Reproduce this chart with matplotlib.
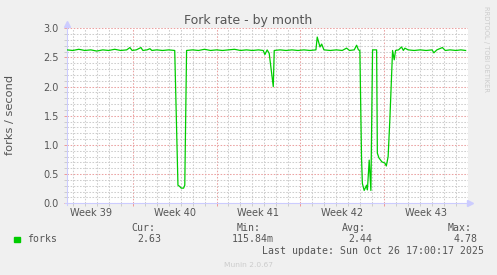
import numpy as np
import matplotlib.pyplot as plt
from matplotlib.patches import Rectangle

# Fork rate per 2h-ish sample, x = days since Mon Sep 22 2025 00:00
days = [1.51, 2.0, 2.5, 3.0, 3.5, 4.0, 4.5, 5.0, 5.5, 6.0, 6.5, 6.77, 6.95, 7.3,
        7.69, 7.85, 8.2, 8.44, 8.6, 9.0, 9.5, 10.0, 10.51,
        10.78, 10.92, 11.05, 11.25, 11.35, 11.5,
        12.0, 12.5, 13.0, 13.5, 14.0, 14.5, 15.0, 15.5, 16.0, 16.5, 17.0, 17.5,
        17.9, 18.04, 18.23, 18.4, 18.74, 18.82,
        19.3, 19.8, 20.3, 20.8, 21.3, 21.8, 22.3,
        22.41, 22.64, 22.78, 22.97, 23.5, 24.0, 24.5, 24.86, 25.1, 25.5, 25.7,
        25.85, 25.97,
        26.11, 26.18, 26.33, 26.53, 26.6, 26.75, 26.89, 27.03, 27.37,
        27.43, 27.56, 27.81, 28.06, 28.18, 28.33, 28.48, 28.7, 28.84, 28.95,
        29.2, 29.45, 29.6, 29.73, 30.0, 30.5, 31.0, 31.5, 32.0, 32.15, 32.4,
        32.86, 33.1, 33.5, 34.0, 34.4, 34.8]
forks = [2.63, 2.62, 2.64, 2.62, 2.63, 2.61, 2.63, 2.62, 2.64, 2.62, 2.63, 2.67, 2.62, 2.63,
         2.67, 2.62, 2.63, 2.65, 2.62, 2.63, 2.62, 2.63, 2.62,
         0.31, 0.29, 0.26, 0.26, 0.31, 2.62,
         2.63, 2.62, 2.64, 2.62, 2.63, 2.62, 2.63, 2.64, 2.62, 2.63, 2.62, 2.63,
         2.62, 2.55, 2.63, 2.57, 2.00, 2.62,
         2.63, 2.62, 2.63, 2.62, 2.63, 2.62, 2.63,
         2.85, 2.68, 2.73, 2.63, 2.62, 2.63, 2.62, 2.66, 2.62, 2.63, 2.71,
         2.63, 2.62,
         0.77, 0.34, 0.22, 0.31, 0.23, 0.74, 0.22, 2.63, 2.63,
         0.86, 0.78, 0.71, 0.69, 0.64, 0.80, 1.46, 2.62, 2.46, 2.62,
         2.63, 2.68, 2.62, 2.66, 2.63, 2.62, 2.63, 2.62, 2.63, 2.58, 2.63,
         2.67, 2.62, 2.63, 2.62, 2.63, 2.62]

week_numbers = [39, 40, 41, 42, 43]
week_starts = [0, 7, 14, 21, 28]
stat_names = ["Cur:", "Min:", "Avg:", "Max:"]
stat_values = ["2.63", "115.84m", "2.44", "4.78"]

W, H = 497, 275
def fx(px):
    return px / W
def fy(py):
    return 1 - py / H

green = '#00cc00'
txt = '#555555'
axis_c = '#ccccff'

fig = plt.figure(figsize=(W / 100, H / 100), dpi=100, facecolor='#f0f0f0')
ax = fig.add_axes([fx(66.7), fy(203.3), (468 - 66.7) / W, (203.3 - 28.3) / H])
ax.set_facecolor('white')

ax.set_xlim(1.49, 35.0)
ax.set_ylim(0, 3.0)

# grid
ax.set_yticks(np.arange(0, 3.01, 0.5))
ax.set_yticklabels([f"{v:.1f}" for v in np.arange(0, 3.01, 0.5)])
ax.set_yticks(np.arange(0, 3.01, 0.1), minor=True)
ax.set_xticks(week_starts[1:])
ax.set_xticklabels([])
ax.set_xticks(np.arange(2, 35), minor=True)
dash = (0, (1.5, 1.5))
ax.grid(which='minor', color='#cdcdcd', lw=0.75, linestyle=dash)
ax.grid(which='major', color='#eba3a3', lw=0.75, linestyle=dash)
ax.set_axisbelow(True)
ax.tick_params(which='minor', length=2, width=0.7, color='#cccccc')
ax.tick_params(which='major', length=2.5, width=0.7, color='#ee9999')
ax.tick_params(axis='y', labelsize=7, labelcolor=txt, pad=3)
for s in ax.spines.values():
    s.set_visible(False)

ax.plot(days, forks, color=green, lw=0.9, zorder=3)

# axes with arrows
ax.plot([0, 0], [-0.01, 1.02], transform=ax.transAxes, clip_on=False, color=axis_c, lw=0.8)
ax.plot([0], [1.027], marker='^', ms=4, color=axis_c, transform=ax.transAxes, clip_on=False)
ax.plot([-0.005, 1.0], [0, 0], transform=ax.transAxes, clip_on=False, color=axis_c, lw=0.8)
ax.plot([1.006], [0], marker='>', ms=4, color=axis_c, transform=ax.transAxes, clip_on=False)

# week labels centred in each week
for wk, st in zip(week_numbers, week_starts):
    ax.annotate(f"Week {wk}", xy=(st + 3.5, 0), xycoords=('data', 'axes fraction'),
                xytext=(0, -3.5), textcoords='offset points', ha='center', va='top',
                fontsize=7, color=txt)

fig.text(fx(247.8), fy(24.3), "Fork rate - by month", ha='center', va='baseline',
         fontsize=9, color=txt)
fig.text(fx(10.5), fy(115), "forks / second", rotation=90, ha='center', va='center',
         fontsize=8.2, color=txt)
fig.text(fx(486), fy(48.5), "RRDTOOL / TOBI OETIKER", rotation=-90, ha='center',
         va='center', fontsize=4.9, color='#cccccc')

# legend
fig.add_artist(Rectangle((fx(14), fy(242.3)), 6 / W, 5.6 / H, transform=fig.transFigure,
                         color=green))
mono = dict(family='DejaVu Sans Mono', fontsize=7.1, color=txt, va='baseline')
fig.text(fx(26.7), fy(242.3), "forks", **mono)
for name, val, xn, xv in zip(stat_names, stat_values, [131, 236.7, 342.3, 447.3],
                             [137.7, 231.7, 348.3, 453.3]):
    fig.text(fx(xn), fy(231), name, **mono)
    fig.text(fx(xv), fy(242.3), val, **mono)
fig.text(fx(261.7), fy(254.3), "Last update: Sun Oct 26 17:00:17 2025", **mono)
fig.text(fx(248), fy(266.7), "Munin 2.0.67", ha='center', va='baseline', fontsize=5.4,
         color='#cccccc')

fig.savefig('out.png', dpi=100, facecolor=fig.get_facecolor())
